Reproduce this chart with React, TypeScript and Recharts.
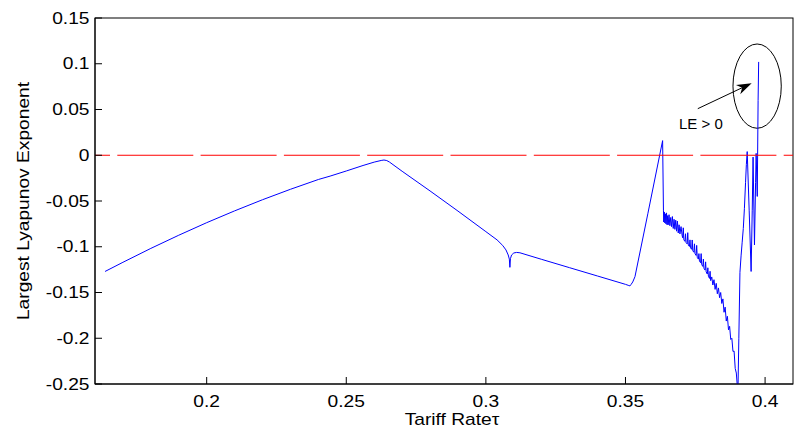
import { LineChart, Line, XAxis, YAxis, ReferenceLine, ReferenceArea, ReferenceDot, Label } from 'recharts';

const FONT = '"Liberation Sans", Arial, Helvetica, sans-serif';
const STRETCH = 1.2; // the original text is a bit wider than Arial

// axis ticks and limits
const tauTicks = [0.2, 0.25, 0.3, 0.35, 0.4];
const leTicks = [-0.25, -0.2, -0.15, -0.1, -0.05, 0, 0.05, 0.1, 0.15];
const tauLimits = [0.16, 0.41];
const leLimits = [-0.25, 0.15];

// slow rise up to the first maximum
const riseTau = [0.1636, 0.17, 0.18, 0.19, 0.2, 0.21, 0.22, 0.23, 0.24, 0.2442, 0.25, 0.256, 0.26, 0.2625, 0.2635, 0.2645];
const riseLE = [-0.127, -0.117, -0.1018, -0.0874, -0.0737, -0.0608, -0.0486, -0.0372, -0.0265, -0.0228, -0.0172, -0.0112, -0.0075, -0.0057, -0.0052, -0.0058];

// fall into the cusp near 0.3086
const fallTau = [0.2655, 0.27, 0.28, 0.29, 0.3, 0.304, 0.306, 0.3072, 0.308, 0.3084, 0.3086, 0.3088, 0.3092, 0.31, 0.311, 0.3122];
const fallLE = [-0.0075, -0.0175, -0.039, -0.061, -0.0835, -0.0925, -0.0985, -0.1035, -0.109, -0.1135, -0.1225, -0.113, -0.109, -0.1068, -0.1062, -0.1066];

// slow decline, then the steep climb above zero
const climbTau = [0.32, 0.33, 0.34, 0.35, 0.3512, 0.3516, 0.352, 0.3526, 0.3534, 0.358, 0.3633];
const climbLE = [-0.1138, -0.1229, -0.132, -0.1411, -0.1424, -0.1428, -0.1412, -0.1385, -0.1327, -0.064, 0.016];

// dense jitter right after the jump
const jitterTau = [
  0.3636, 0.3637, 0.3639, 0.3641, 0.3643, 0.3645, 0.3647, 0.3649, 0.3651, 0.3653, 0.3656, 0.3659, 0.3662, 0.3665,
  0.3668, 0.3671, 0.3674, 0.3677, 0.368, 0.3683, 0.3686, 0.3689, 0.3692, 0.3695, 0.3699, 0.3703,
];
const jitterLE = [
  -0.06, -0.073, -0.062, -0.074, -0.064, -0.075, -0.063, -0.076, -0.066, -0.076, -0.065, -0.077, -0.068, -0.078,
  -0.067, -0.08, -0.07, -0.081, -0.071, -0.083, -0.072, -0.085, -0.076, -0.086, -0.078, -0.088,
];

// comb of spikes on the descending branch
const combTau = [
  0.3705, 0.3707, 0.3709, 0.3713, 0.3715, 0.3717, 0.3721, 0.3723, 0.3725, 0.3729, 0.3731, 0.3733, 0.3737, 0.3739,
  0.3741, 0.3745, 0.3747, 0.3749, 0.3753, 0.3755, 0.3757, 0.3761, 0.3763, 0.3765, 0.3769, 0.3771, 0.3773, 0.3777,
  0.3779, 0.3781, 0.3785, 0.3787, 0.3789, 0.3793, 0.3795, 0.3797, 0.3801, 0.3803, 0.3805,
];
const combLE = [
  -0.0902, -0.0793, -0.0924, -0.0941, -0.0858, -0.0955, -0.0969, -0.0846, -0.0983, -0.0997, -0.0925, -0.1012, -0.1028, -0.0926,
  -0.1044, -0.106, -0.0968, -0.1076, -0.1095, -0.0985, -0.1115, -0.1135, -0.1075, -0.1155, -0.1175, -0.1075, -0.1195, -0.1215,
  -0.1135, -0.1235, -0.1255, -0.1165, -0.1275, -0.1298, -0.123, -0.1322, -0.1346, -0.1268, -0.137,
];

// steep noisy plunge below the axis floor
const plungeTau = [
  0.3809, 0.3813, 0.3817, 0.3821, 0.3825, 0.3829, 0.3833, 0.3837, 0.3841, 0.3845, 0.3849, 0.3853, 0.3857, 0.3861,
  0.3865, 0.3869, 0.3873, 0.3877, 0.3881, 0.3885, 0.3889, 0.3893, 0.3897, 0.39, 0.3902,
];
const plungeLE = [
  -0.133, -0.1418, -0.136, -0.1466, -0.14, -0.1514, -0.145, -0.1557, -0.15, -0.162, -0.157, -0.1716, -0.166, -0.1812,
  -0.176, -0.1908, -0.187, -0.2013, -0.2, -0.2144, -0.214, -0.233, -0.238, -0.25, -0.258,
];

// final oscillation with the positive exponent
const burstTau = [0.3903, 0.3906, 0.391, 0.3914, 0.3918, 0.3922, 0.3926, 0.393, 0.3933, 0.3936, 0.3943, 0.395, 0.3954, 0.3957, 0.3962, 0.3966, 0.3968, 0.3972, 0.3975, 0.3977];
const burstLE = [-0.255, -0.2, -0.128, -0.11, -0.095, -0.08, -0.058, -0.03, -0.01, 0.004, -0.06, -0.127, -0.06, -0.002, -0.098, -0.03, 0.002, -0.045, 0.06, 0.102];

// annotation anchors (data space)
const ellipseTau = [0.3885, 0.4058];
const ellipseLE = [0.0295, 0.1216];
const arrowFrom = { tau: 0.3759, le: 0.0509 };
const arrowTo = { tau: 0.3952, le: 0.0787 };
const noteAt = { tau: 0.377, le: 0.0342 };

const toPoints = (tau: number[], le: number[]) => tau.map((t, i) => ({ tau: t, le: le[i] }));

const data = [
  ...toPoints(riseTau, riseLE),
  ...toPoints(fallTau, fallLE),
  ...toPoints(climbTau, climbLE),
  ...toPoints(jitterTau, jitterLE),
  ...toPoints(combTau, combLE),
  ...toPoints(plungeTau, plungeLE),
  ...toPoints(burstTau, burstLE),
];

const TICK = 7;

// inward tick marks, matlab style
const BottomTick = ({ x, y, payload }: any) => (
  <g>
    <line x1={x} y1={y} x2={x} y2={y - TICK} stroke="#000" strokeWidth={1} />
    <text transform={`translate(${x}, ${y + 12}) scale(${STRETCH}, 1)`} textAnchor="middle" dy="0.71em" fontSize={16} fontFamily={FONT} fill="#000">
      {payload.value}
    </text>
  </g>
);

const TopTick = ({ x, y }: any) => <line x1={x} y1={y} x2={x} y2={y + TICK} stroke="#000" strokeWidth={1} />;

const LeftTick = ({ x, y, payload }: any) => (
  <g>
    <line x1={x} y1={y} x2={x + TICK} y2={y} stroke="#000" strokeWidth={1} />
    <text transform={`translate(${x - 5.5}, ${y}) scale(${STRETCH}, 1)`} textAnchor="end" dy="0.355em" fontSize={16} fontFamily={FONT} fill="#000">
      {payload.value}
    </text>
  </g>
);

const RightTick = ({ x, y }: any) => <line x1={x - TICK} y1={y} x2={x} y2={y} stroke="#000" strokeWidth={1} />;

const Arrow = (props: any) => {
  const { x1, y1, x2, y2 } = props;
  const ang = Math.atan2(y2 - y1, x2 - x1);
  const c = Math.cos(ang);
  const s = Math.sin(ang);
  const len = 15;
  const half = 5;
  const bx = x2 - len * c;
  const by = y2 - len * s;
  const nx = x2 - len * 0.7 * c;
  const ny = y2 - len * 0.7 * s;
  return (
    <g>
      <line x1={x1} y1={y1} x2={nx} y2={ny} stroke="#000" strokeWidth={1} />
      <polygon
        points={`${x2},${y2} ${bx - s * half},${by + c * half} ${nx},${ny} ${bx + s * half},${by - c * half}`}
        fill="#000"
      />
    </g>
  );
};

const Ellipse = (props: any) => {
  const { x, y, width, height } = props;
  return (
    <ellipse cx={x + width / 2} cy={y + height / 2} rx={width / 2} ry={height / 2} fill="none" stroke="#000" strokeWidth={1} />
  );
};

// box around the plot
const Frame = (props: any) => {
  const { x, y, width, height } = props;
  return <rect x={x} y={y} width={width} height={height} fill="none" stroke="#000" strokeWidth={1} />;
};

const Note = (props: any) => (
  <text x={props.cx} y={props.cy} textAnchor="middle" dominantBaseline="central" fontSize={15} fontFamily={FONT} fill="#000">
    LE &gt; 0
  </text>
);

export default function App() {
  return (
    <div style={{ position: 'absolute', left: 0, top: 0, width: 794, height: 435, background: '#fff' }}>
      <LineChart width={794} height={435} data={data} margin={{ top: 18, right: 1, bottom: 0, left: 0 }}>
        <XAxis
          dataKey="tau"
          type="number"
          domain={tauLimits}
          ticks={tauTicks}
          interval={0}
          allowDataOverflow
          height={51}
          axisLine={{ stroke: '#000' }}
          tickLine={false}
          tickSize={0}
          tickMargin={0}
          tick={<BottomTick />}
        >
          <Label
            content={({ viewBox }: any) => (
              <text
                transform={`translate(${viewBox.x + viewBox.width / 2 + 8}, 425) scale(${STRETCH}, 1)`}
                textAnchor="middle"
                fontSize={16}
                fontFamily={FONT}
                fill="#000"
              >
                Tariff Rateτ
              </text>
            )}
          />
        </XAxis>
        <XAxis
          xAxisId="top"
          dataKey="tau"
          type="number"
          orientation="top"
          domain={tauLimits}
          ticks={tauTicks}
          interval={0}
          allowDataOverflow
          height={0}
          axisLine={{ stroke: '#000' }}
          tickLine={false}
          tickSize={0}
          tickMargin={0}
          tick={<TopTick />}
        />
        <YAxis
          type="number"
          domain={leLimits}
          ticks={leTicks}
          interval={0}
          allowDataOverflow
          width={95}
          axisLine={{ stroke: '#000' }}
          tickLine={false}
          tickSize={0}
          tickMargin={0}
          tick={<LeftTick />}
        >
          <Label
            content={({ viewBox }: any) => {
              const cy = viewBox.y + viewBox.height / 2;
              return (
                <text
                  transform={`translate(28.5, ${cy}) rotate(-90) scale(${STRETCH}, 1)`}
                  textAnchor="middle"
                  fontSize={16}
                  fontFamily={FONT}
                  fill="#000"
                >
                  Largest Lyapunov Exponent
                </text>
              );
            }}
          />
        </YAxis>
        <YAxis
          yAxisId="right"
          type="number"
          orientation="right"
          domain={leLimits}
          ticks={leTicks}
          interval={0}
          allowDataOverflow
          width={0}
          axisLine={{ stroke: '#000' }}
          tickLine={false}
          tickSize={0}
          tickMargin={0}
          tick={<RightTick />}
        />
        <ReferenceArea
          x1={tauLimits[0]}
          x2={tauLimits[1]}
          y1={leLimits[0]}
          y2={leLimits[1]}
          ifOverflow="visible"
          shape={<Frame />}
        />
        <Line
          dataKey="le"
          type="linear"
          stroke="#0000ff"
          strokeWidth={1}
          dot={false}
          activeDot={false}
          isAnimationActive={false}
        />
        <ReferenceLine y={0} stroke="#ff0000" strokeWidth={1} strokeDasharray="76 7.3" strokeDashoffset={61} />
        <ReferenceArea x1={ellipseTau[0]} x2={ellipseTau[1]} y1={ellipseLE[0]} y2={ellipseLE[1]} shape={<Ellipse />} />
        <ReferenceLine
          segment={[
            { x: arrowFrom.tau, y: arrowFrom.le },
            { x: arrowTo.tau, y: arrowTo.le },
          ]}
          shape={<Arrow />}
        />
        <ReferenceDot x={noteAt.tau} y={noteAt.le} r={0} shape={<Note />} />
      </LineChart>
    </div>
  );
}
